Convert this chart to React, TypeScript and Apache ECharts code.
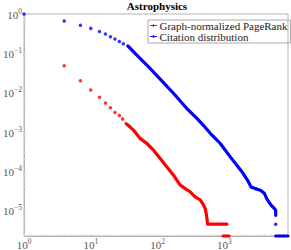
import React, { useEffect, useRef } from "react";
import * as echarts from "echarts";

const TITLE = "Astrophysics";
const NAME_PR = "Graph-normalized PageRank";
const NAME_CIT = "Citation distribution";

const xLabelTicks = [1, 10, 100, 1000];
const yLabelTicks = [1e-5, 1e-4, 1e-3, 1e-2, 1e-1, 1];

// Citation distribution (blue)
const citationDots: [number, number][] = [
  [1, 1], [4, 0.66], [7, 0.52], [10, 0.43], [13.5, 0.36], [16.6, 0.31],
  [19.7, 0.264], [23, 0.23], [26.8, 0.2], [30.8, 0.175],
];
const citationCurve: [number, number][] = [
  [35.9, 0.153], [46.1, 0.0993], [69.2, 0.0501], [109.6, 0.0219], [173, 0.00955],
  [275, 0.00389], [389, 0.00219], [483, 0.00148], [617, 0.000912], [871, 0.000501],
  [1230, 0.000229], [1837, 9.55e-5], [2307, 5.25e-5], [2512, 3.89e-5], [2904, 3.55e-5],
  [3467, 3.24e-5], [3981, 2.69e-5], [4365, 1.91e-5], [5012, 1.35e-5], [5495, 1.15e-5],
  [5888, 1.0e-5], [5888, 7.4e-6],
];
const citationTail: [number, number][] = [[5888, 4.4e-6]];
const citationFloor: [number, number][] = [[5888, 2.2e-6], [9000, 2.2e-6]];

// Graph-normalized PageRank (red)
const pagerankDots: [number, number][] = [
  [4, 0.048], [7, 0.02], [10, 0.0115], [13.5, 0.0076], [16.6, 0.0054],
  [19.7, 0.0041], [23, 0.0031], [26.8, 0.0026], [30, 0.0021],
];
const pagerankCurve: [number, number][] = [
  [33.8, 0.0016], [35.9, 0.00148], [43.6, 0.0011], [54.8, 0.000676], [69.2, 0.000501],
  [87.1, 0.000339], [109.6, 0.000209], [138, 0.000126], [174, 7.76e-5], [219, 4.37e-5],
  [259, 3.55e-5], [308, 2.95e-5], [366, 2.19e-5], [437, 1.82e-5], [490, 1.35e-5],
  [518, 1.1e-5], [536, 8.3e-6], [550, 6.2e-6], [560, 4.4e-6], [1096, 4.4e-6],
];
const pagerankFloor: [number, number][] = [[959, 2.2e-6], [1180, 2.2e-6]];

const X_MIN = 1;
const X_MAX = 9000;
const Y_MIN = 2.2e-6;
const Y_MAX = 1;

const RED = "#ff0000";
const BLUE = "#0000ff";
const FONT = "'Liberation Serif', 'DejaVu Serif', serif";
const AXIS_COLOR = "#b3b3b3";
const LABEL_COLOR = "#555";

function minorTicks(lo: number, hi: number): number[] {
  const out: number[] = [];
  for (let e = Math.floor(Math.log10(lo)); e <= Math.ceil(Math.log10(hi)); e++) {
    for (let m = 1; m < 10; m++) {
      const v = m * Math.pow(10, e);
      if (v >= lo && v <= hi) out.push(v);
    }
  }
  return out;
}

function powLabel(v: number): string {
  const n = Math.round(Math.log10(v));
  if (Math.abs(Math.log10(v) - n) > 1e-6) return "";
  const exp = n < 0 ? "\u2212" + -n : String(n);
  return `{b|10}{s|${exp}}`;
}

const rich = {
  b: { fontFamily: FONT, fontSize: 11, color: LABEL_COLOR, lineHeight: 13, verticalAlign: "bottom" },
  s: { fontFamily: FONT, fontSize: 7.5, color: LABEL_COLOR, lineHeight: 8, verticalAlign: "top" },
};

export default function App() {
  const ref = useRef<HTMLDivElement>(null);
  useEffect(() => {
    const chart = echarts.init(ref.current!, null, { renderer: "svg" });
    const dot = (name: string, color: string, data: [number, number][]) => ({
      name,
      type: "scatter",
      data,
      symbol: "circle",
      symbolSize: 3.5,
      itemStyle: { color },
      clip: false,
      silent: true,
    });
    const curve = (name: string, color: string, data: [number, number][]) => ({
      name,
      type: "line",
      data,
      symbol: "circle",
      symbolSize: 3.5,
      showSymbol: false,
      itemStyle: { color },
      lineStyle: { color, width: 3.2, cap: "round", join: "round" },
      clip: false,
      silent: true,
    });
    chart.setOption({
      animation: false,
      backgroundColor: "#fff",
      graphic: [
        {
          type: "text",
          x: 157,
          y: 6,
          style: {
            text: TITLE,
            fontFamily: FONT,
            fontSize: 11,
            fontWeight: "bold",
            fill: "#000",
            textAlign: "center",
            textVerticalAlign: "middle",
          },
        },
      ],
      legend: {
        orient: "vertical",
        left: 148,
        top: 20,
        itemGap: 0,
        itemWidth: 6,
        itemHeight: 3,
        padding: [0, 3, 1, 2],
        borderColor: "#aaa",
        borderWidth: 1,
        borderRadius: 0,
        lineStyle: { width: 1 },
        textStyle: { fontFamily: FONT, fontSize: 11, color: "#222", lineHeight: 10, padding: [0, 0, 0, -2] },
        data: [NAME_PR, NAME_CIT],
      },
      grid: {
        left: 24,
        right: 3,
        top: 14,
        bottom: 14,
        show: true,
        borderColor: AXIS_COLOR,
        borderWidth: 1,
      },
      xAxis: {
        type: "log",
        logBase: 10,
        min: X_MIN,
        max: X_MAX,
        splitLine: { show: false },
        axisLine: { show: true, lineStyle: { color: AXIS_COLOR } },
        axisTick: { show: true, inside: true, length: 2, lineStyle: { color: "#ddd" }, customValues: minorTicks(X_MIN, X_MAX) },
        axisLabel: { customValues: xLabelTicks, formatter: powLabel, rich, margin: 1 },
      },
      yAxis: {
        type: "log",
        logBase: 10,
        min: Y_MIN,
        max: Y_MAX,
        splitLine: { show: false },
        axisLine: { show: true, lineStyle: { color: AXIS_COLOR } },
        axisTick: { show: true, inside: true, length: 2, lineStyle: { color: "#ddd" }, customValues: minorTicks(Y_MIN, Y_MAX) },
        axisLabel: { customValues: yLabelTicks, formatter: powLabel, rich, margin: 2 },
      },
      series: [
        dot("pr-dots", RED, pagerankDots),
        curve(NAME_PR, RED, pagerankCurve),
        curve("pr-floor", RED, pagerankFloor),
        dot("cit-dots", BLUE, citationDots),
        curve(NAME_CIT, BLUE, citationCurve),
        dot("cit-tail", BLUE, citationTail),
        curve("cit-floor", BLUE, citationFloor),
      ],
    });
    return () => chart.dispose();
  }, []);
  return (
    <div
      ref={ref}
      style={{ position: "fixed", left: 0, top: 0, width: 291, height: 250, background: "#fff" }}
    />
  );
}
